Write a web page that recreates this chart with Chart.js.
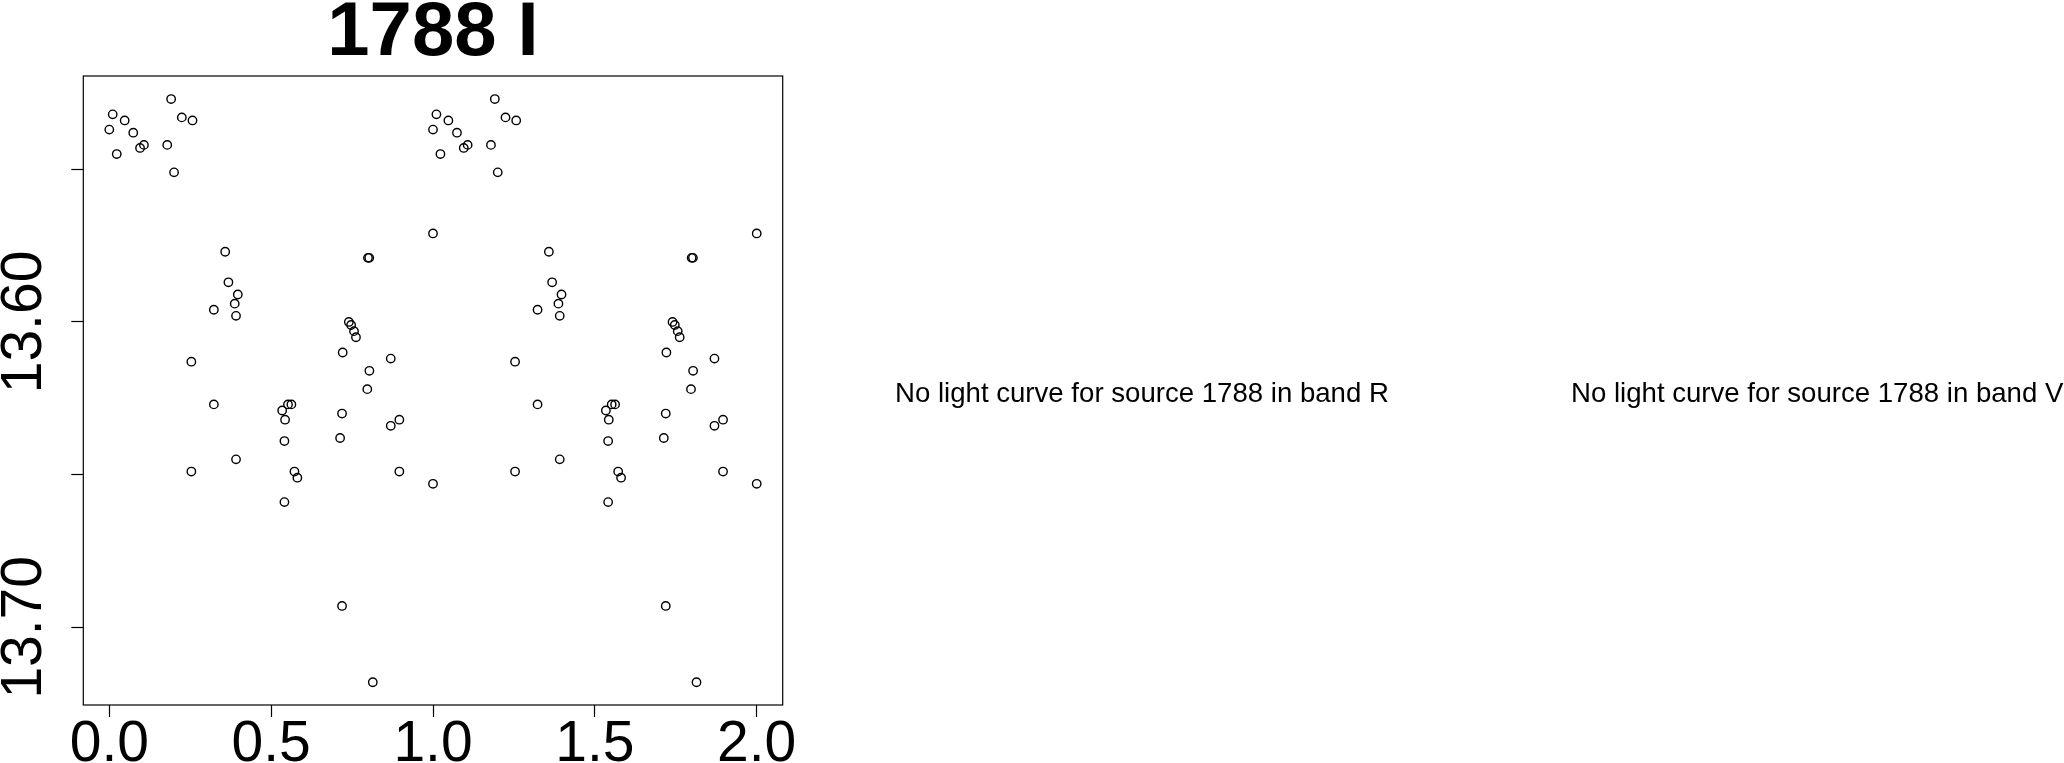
<!DOCTYPE html>
<html>
<head>
<meta charset="utf-8">
<script src="https://cdn.jsdelivr.net/npm/chart.js@4.4.1/dist/chart.umd.min.js"></script>
<style>
  html, body { margin: 0; padding: 0; background: #fff; }
  #wrap { position: relative; width: 2064px; height: 763px; overflow: hidden; }
  canvas { position: absolute; left: 0; top: 0; }
  .msg { position: absolute; font-family: "Liberation Sans", Arial, sans-serif; font-size: 27.6px; line-height: 27.6px; color: #000; white-space: nowrap; }
</style>
</head>
<body>
<div id="wrap">
  <canvas id="c" width="2064" height="763"></canvas>
  <div class="msg" id="msgR" style="left:895px; top:379px;"></div>
  <div class="msg" id="msgV" style="left:1571px; top:379px;"></div>
</div>
<script>
// ---- data (phase in [0,1], magnitude) ----
const title = "1788 I";
const phase = [0.0105, 0.0475, 0.0, 0.074, 0.095, 0.107, 0.023, 0.191, 0.224, 0.257,
  0.179, 0.200, 1.0, 0.358, 0.368, 0.397, 0.3875, 0.323, 0.3915, 0.2535,
  0.323, 0.799, 0.803, 0.740, 0.747, 0.756, 0.762, 0.721, 0.8695, 0.8035,
  0.797, 0.552, 0.5625, 0.534, 0.543, 0.719, 0.896, 0.8695, 0.541, 0.713,
  0.3915, 0.2535, 0.572, 0.581, 0.896, 1.0, 0.541, 0.719, 0.814];
const mag = [13.532, 13.534, 13.537, 13.538, 13.543, 13.542, 13.545, 13.527, 13.533, 13.534,
  13.542, 13.551, 13.571, 13.577, 13.587, 13.591, 13.594, 13.596, 13.598, 13.613,
  13.627, 13.579, 13.579, 13.600, 13.601, 13.603, 13.605, 13.610, 13.612, 13.616,
  13.622, 13.627, 13.627, 13.629, 13.632, 13.630, 13.632, 13.634, 13.639, 13.638,
  13.645, 13.649, 13.649, 13.651, 13.649, 13.653, 13.659, 13.693, 13.718];
const xTicks = [0.0, 0.5, 1.0, 1.5, 2.0];
const xTickLabels = ["0.0", "0.5", "1.0", "1.5", "2.0"];
const yTicks = [13.55, 13.60, 13.65, 13.70];
const yTickLabels = ["", "13.60", "", "13.70"];
const messages = ["No light curve for source 1788 in band R", "No light curve for source 1788 in band V"];

document.getElementById('msgR').textContent = messages[0];
document.getElementById('msgV').textContent = messages[1];

// phase-folded: each observation drawn at phase and phase + 1
const points = [];
phase.forEach((p, i) => points.push({ x: p, y: mag[i] }));
phase.forEach((p, i) => points.push({ x: p + 1, y: mag[i] }));

const FONT = '"Liberation Sans", Arial, sans-serif';

const framePlugin = {
  id: 'frame',
  afterDraw(chart) {
    const a = chart.chartArea, ctx = chart.ctx;
    ctx.save();
    ctx.strokeStyle = '#000';
    ctx.lineWidth = 1.2;
    ctx.strokeRect(a.left, a.top, a.right - a.left, a.bottom - a.top);
    ctx.restore();
  }
};

new Chart(document.getElementById('c'), {
  type: 'scatter',
  data: {
    datasets: [{
      data: points,
      pointStyle: 'circle',
      pointRadius: 4.2,
      pointHoverRadius: 4.2,
      pointBorderWidth: 1.4,
      pointBorderColor: '#000',
      pointBackgroundColor: 'rgba(0,0,0,0)'
    }]
  },
  options: {
    responsive: false,
    devicePixelRatio: 1,
    animation: false,
    events: [],
    layout: { padding: { left: 0, right: 2064 - 782.7, top: 0, bottom: 0 } },
    plugins: {
      legend: { display: false },
      tooltip: { enabled: false },
      title: {
        display: true,
        text: title,
        fullSize: false,
        color: '#000',
        font: { family: FONT, size: 76, weight: 'bold', lineHeight: 0.8 },
        padding: { top: 4, bottom: 11.2 }
      }
    },
    scales: {
      x: {
        type: 'linear',
        min: -0.0803,
        max: 2.0803,
        afterBuildTicks: s => { s.ticks = xTicks.map(v => ({ value: v })); },
        afterFit: s => { s.height = 58; },
        border: { display: false },
        grid: { drawOnChartArea: false, drawTicks: true, tickLength: 12, tickWidth: 1.2, tickColor: '#000' },
        ticks: {
          autoSkip: false, maxRotation: 0, minRotation: 0, padding: -5.7,
          color: '#000', font: { family: FONT, size: 57 },
          callback: (v, i) => xTickLabels[i]
        }
      },
      y: {
        type: 'linear',
        reverse: true,
        min: 13.51944,
        max: 13.72545,
        afterBuildTicks: s => { s.ticks = yTicks.map(v => ({ value: v })); },
        afterFit: s => { s.width = 83.3; },
        border: { display: false },
        grid: { drawOnChartArea: false, drawTicks: true, tickLength: 12, tickWidth: 1.2, tickColor: '#000' },
        ticks: {
          autoSkip: false, minRotation: 90, maxRotation: 90, crossAlign: 'center', padding: -25.2,
          color: '#000', font: { family: FONT, size: 57 },
          callback: (v, i) => yTickLabels[i]
        }
      }
    }
  },
  plugins: [framePlugin]
});
</script>
</body>
</html>
